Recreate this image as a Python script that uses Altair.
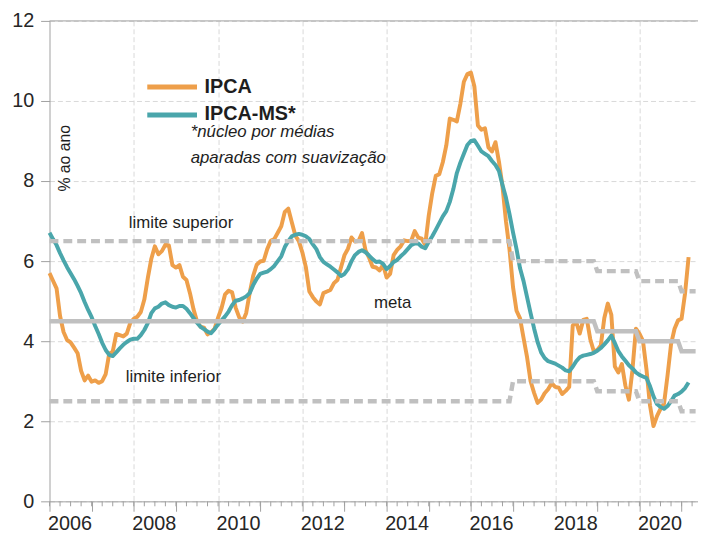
import altair as alt
import pandas as pd

START_YEAR = 2006

# IPCA, 12-month accumulated (% a.a.), Jan 2006 .. Mar 2021
ipca = [5.70, 5.51, 5.32, 4.63, 4.23, 4.03, 3.97, 3.84, 3.70, 3.26, 3.02, 3.14,
        2.99, 3.02, 2.96, 3.00, 3.18, 3.69, 3.74, 4.18, 4.15, 4.12, 4.19, 4.46,
        4.56, 4.61, 4.73, 5.04, 5.58, 6.06, 6.37, 6.17, 6.25, 6.41, 6.39, 5.90,
        5.84, 5.90, 5.61, 5.53, 5.20, 4.80, 4.50, 4.36, 4.34, 4.17, 4.22, 4.31,
        4.59, 4.83, 5.17, 5.26, 5.22, 4.84, 4.60, 4.49, 4.70, 5.20, 5.63, 5.91,
        5.99, 6.01, 6.30, 6.51, 6.55, 6.71, 6.87, 7.23, 7.31, 6.97, 6.64, 6.50,
        6.22, 5.85, 5.24, 5.10, 4.99, 4.92, 5.20, 5.24, 5.28, 5.45, 5.53, 5.84,
        6.15, 6.31, 6.59, 6.49, 6.50, 6.70, 6.27, 6.09, 5.86, 5.84, 5.77, 5.91,
        5.59, 5.68, 6.15, 6.28, 6.37, 6.52, 6.50, 6.51, 6.75, 6.59, 6.56, 6.41,
        7.14, 7.70, 8.13, 8.17, 8.47, 8.89, 9.56, 9.53, 9.49, 9.93, 10.48, 10.67,
        10.71, 10.36, 9.39, 9.28, 9.32, 8.84, 8.74, 8.97, 8.48, 7.87, 6.99, 6.29,
        5.35, 4.76, 4.57, 4.08, 3.60, 3.00, 2.71, 2.46, 2.54, 2.70, 2.80, 2.95,
        2.86, 2.84, 2.68, 2.76, 2.86, 4.39, 4.48, 4.19, 4.53, 4.56, 4.05, 3.75,
        3.78, 3.89, 4.58, 4.94, 4.66, 3.37, 3.22, 3.43, 2.89, 2.54, 3.27, 4.31,
        4.19, 4.01, 3.30, 2.40, 1.88, 2.13, 2.31, 2.44, 3.14, 3.92, 4.31, 4.52,
        4.56, 5.20, 6.10]

# IPCA-MS (núcleo por médias aparadas com suavização)
ipca_ms = [6.71, 6.55, 6.40, 6.20, 6.02, 5.85, 5.70, 5.55, 5.38, 5.20, 4.98, 4.78,
           4.60, 4.38, 4.18, 3.96, 3.78, 3.66, 3.63, 3.72, 3.82, 3.91, 3.98, 4.04,
           4.06, 4.06, 4.15, 4.28, 4.45, 4.70, 4.82, 4.86, 4.94, 4.97, 4.90, 4.86,
           4.84, 4.88, 4.88, 4.81, 4.70, 4.58, 4.46, 4.36, 4.30, 4.24, 4.20, 4.30,
           4.42, 4.52, 4.62, 4.74, 4.90, 5.01, 5.03, 5.07, 5.12, 5.20, 5.40, 5.56,
           5.68, 5.71, 5.74, 5.80, 5.88, 6.00, 6.12, 6.35, 6.50, 6.62, 6.66, 6.68,
           6.66, 6.62, 6.55, 6.42, 6.30, 6.10, 5.98, 5.92, 5.86, 5.79, 5.72, 5.63,
           5.68, 5.80, 6.00, 6.15, 6.23, 6.27, 6.22, 6.14, 6.05, 5.98, 5.99, 5.93,
           5.80, 5.88, 5.98, 6.03, 6.12, 6.20, 6.30, 6.40, 6.44, 6.44, 6.36, 6.32,
           6.48, 6.62, 6.78, 6.95, 7.12, 7.25, 7.48, 7.80, 8.20, 8.46, 8.68, 8.90,
           9.00, 9.02, 8.88, 8.74, 8.68, 8.62, 8.50, 8.40, 8.25, 7.90, 7.58, 7.17,
           6.72, 6.30, 5.82, 5.50, 5.10, 4.70, 4.32, 3.98, 3.72, 3.58, 3.50, 3.47,
           3.44, 3.39, 3.34, 3.27, 3.25, 3.36, 3.50, 3.60, 3.64, 3.66, 3.68, 3.71,
           3.76, 3.83, 3.92, 4.02, 4.14, 3.95, 3.75, 3.62, 3.51, 3.40, 3.32, 3.22,
           3.16, 3.12, 3.08, 2.88, 2.62, 2.43, 2.36, 2.31, 2.38, 2.50, 2.64, 2.68,
           2.74, 2.83, 2.97]

# inflation target (meta) and tolerance per calendar year
target_years = list(range(2006, 2022))
target = [4.5] * 13 + [4.25, 4.0, 3.75]
tolerance = [2.0] * 11 + [1.5] * 5
limit_months = 185  # target lines run to May 2021

ORANGE = "#EE9F4A"
TEAL = "#4AA6AB"
GRAY = "#C0C0C0"
AXIS_GRAY = "#A0A0A0"
GRID = "#D9D9D9"
TXT = "#1E1E1E"
FONT = "Liberation Sans"

W, H = 656, 486

n = len(ipca)
t = [START_YEAR + i / 12 for i in range(n)]
df_ipca = pd.DataFrame({"t": t, "v": ipca})
df_ms = pd.DataFrame({"t": t, "v": ipca_ms})

meta_rows, lim_rows = [], []
for i in range(limit_months):
    yi = i // 12
    tt = START_YEAR + i / 12
    meta_rows.append({"t": tt, "v": target[yi]})
    lim_rows.append({"t": tt, "v": target[yi] + tolerance[yi], "s": "sup"})
    lim_rows.append({"t": tt, "v": target[yi] - tolerance[yi], "s": "inf"})
df_meta = pd.DataFrame(meta_rows)
df_lim = pd.DataFrame(lim_rows)

x_scale = alt.Scale(domain=[2006, 2021.39], nice=False, zero=False)
y_scale = alt.Scale(domain=[0, 12], nice=False, zero=True)

x_axis = alt.Axis(
    values=target_years,
    labelExpr="datum.value % 2 == 0 ? format(datum.value, 'd') : ''",
    labelAlign="left", labelOffset=-2, labelPadding=2, labelOverlap=False,
    labelFontSize=20, labelFont=FONT, labelColor="#262626", labelFlush=False,
    tickSize=10, tickColor=AXIS_GRAY, domainColor=AXIS_GRAY,
    grid=True, gridColor=GRID, gridDash=[5, 3],
    gridOpacity={"condition": {"test": "datum.value % 2 == 0 && datum.value > 2006", "value": 1}, "value": 0},
    title=None,
)
y_axis = alt.Axis(
    values=[0, 2, 4, 6, 8, 10, 12],
    labelFontSize=20, labelFont=FONT, labelColor="#262626", labelPadding=7,
    tickSize=9, tickColor=AXIS_GRAY, domainColor=AXIS_GRAY,
    grid=True, gridColor=GRID, gridDash=[5, 3], title=None,
)

X = alt.X("t:Q", scale=x_scale, axis=x_axis)
Y = alt.Y("v:Q", scale=y_scale, axis=y_axis)

orange_line = alt.Chart(df_ipca).mark_line(color=ORANGE, strokeWidth=4, strokeJoin="round").encode(x=X, y=Y)
teal_line = alt.Chart(df_ms).mark_line(color=TEAL, strokeWidth=4, strokeJoin="round").encode(x=X, y=Y)
meta_line = alt.Chart(df_meta).mark_line(color=GRAY, strokeWidth=4.5).encode(x=X, y=Y)
lim_lines = alt.Chart(df_lim).mark_line(color=GRAY, strokeWidth=4.5, strokeDash=[9, 5]).encode(
    x=X, y=Y, detail="s:N")

top_border = alt.Chart(pd.DataFrame({"v": [12]})).mark_rule(color=AXIS_GRAY, strokeWidth=1).encode(y=Y)

quarters = [2006 + q / 4 for q in range(62)]
minor_ticks = alt.Chart(pd.DataFrame({"t": quarters})).mark_rule(color=AXIS_GRAY, strokeWidth=1).encode(
    x=X, y=alt.value(H), y2=alt.value(H + 5))


def label(text, tx, vy, size=17, **kw):
    return alt.Chart(pd.DataFrame({"t": [tx], "v": [vy], "txt": [text]})).mark_text(
        align=kw.pop("align", "left"), baseline=kw.pop("baseline", "alphabetic"),
        fontSize=size, font=FONT, color=TXT, **kw).encode(x=X, y=Y, text="txt:N")


def legend_line(color, vy):
    return alt.Chart(pd.DataFrame({"t": [2008.32], "t2": [2009.50], "v": [vy]})).mark_rule(
        color=color, strokeWidth=5).encode(x=X, x2="t2:Q", y=Y)


texts = [
    label("limite superior", 2007.88, 6.82),
    label("limite inferior", 2007.81, 2.97),
    label("meta", 2013.70, 4.82),
    label("% ao ano", 2006.37, 8.57, size=16, angle=270, align="center", baseline="middle"),
    label("IPCA", 2009.68, 10.21, size=20, fontWeight="bold"),
    label("IPCA-MS*", 2009.68, 9.53, size=20, fontWeight="bold"),
    label("*núcleo por médias", 2009.35, 9.09, size=17, fontStyle="italic"),
    label("aparadas com  suavização", 2009.35, 8.45, size=17, fontStyle="italic"),
]

chart = alt.layer(
    orange_line, teal_line, meta_line, lim_lines, top_border, minor_ticks,
    legend_line(ORANGE, 10.35), legend_line(TEAL, 9.65), *texts,
).properties(
    width=W, height=H,
    autosize=alt.AutoSizeParams(type="none"),
    padding={"left": 42, "top": 10, "right": 0, "bottom": 32},
    background="white",
).configure_view(stroke=None)

chart.save("out.html", embed_options={"renderer": "svg", "actions": False})
